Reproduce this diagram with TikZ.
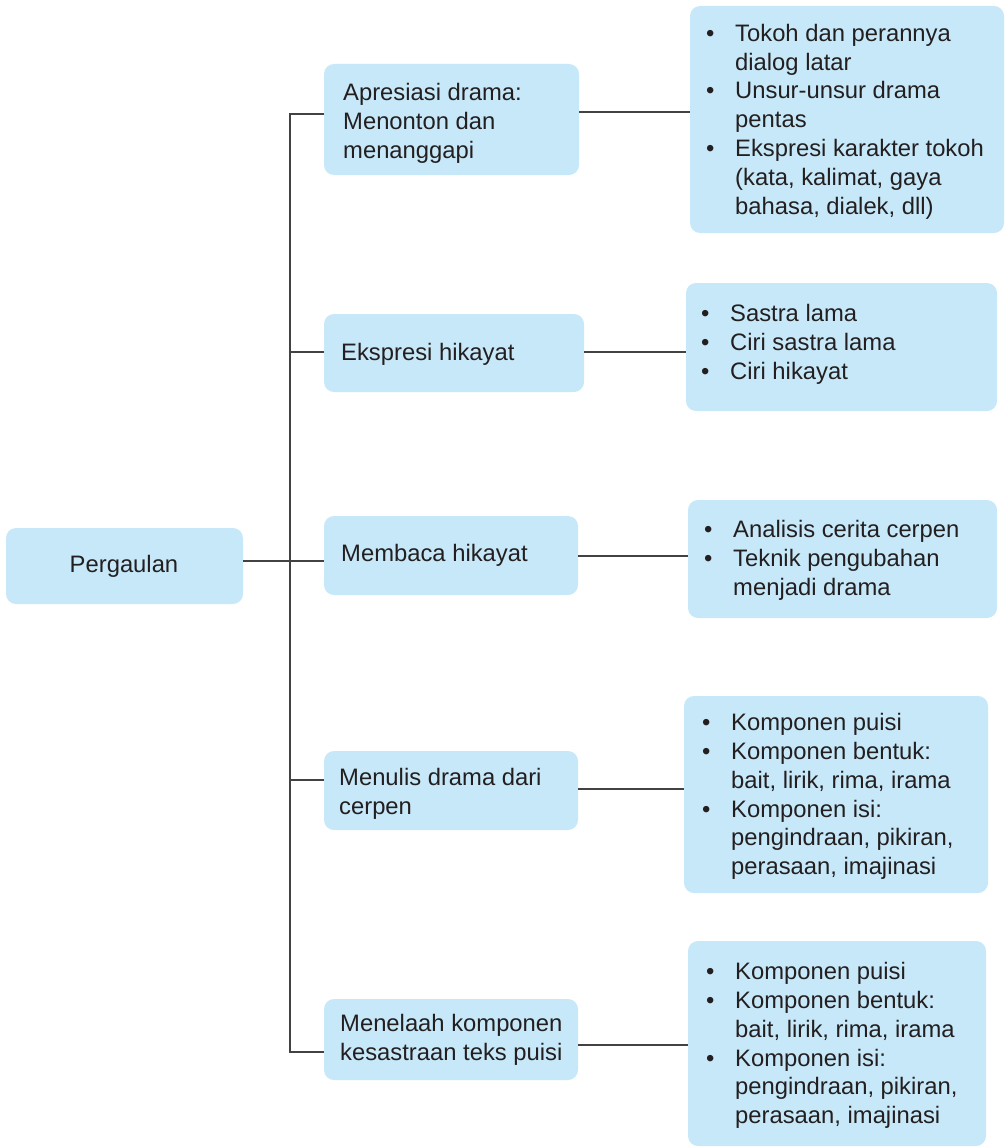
\documentclass[tikz,border=0pt]{standalone}
\usepackage{fontspec}
\setmainfont{Liberation Sans}
\definecolor{boxfill}{HTML}{C7E8F8}
\definecolor{ink}{HTML}{231F20}
% bullet item and hanging indent for the list boxes
\newcommand{\itm}{\makebox[29pt][l]{\textbullet}}
\newcommand{\ind}{\hspace*{29pt}}
\begin{document}
\begin{tikzpicture}[x=1pt,y=-1pt,
  box/.style={fill=boxfill, draw=none, rounded corners=10pt, anchor=north west,
              inner sep=0pt, outer sep=0pt},
  txt/.style={anchor=west, inner sep=0pt, align=left, text=ink,
              font=\fontsize{23.8}{28.8}\selectfont},
  link/.style={draw=ink!85, line width=1.1pt}]
\useasboundingbox (0,0) rectangle (1005,1148);

% ---- boxes ----
\node[box, minimum width=237pt, minimum height=76pt]  (root) at (6,528) {};
\node[box, minimum width=255pt, minimum height=111pt] (m1) at (324,64) {};
\node[box, minimum width=260pt, minimum height=78pt]  (m2) at (324,314) {};
\node[box, minimum width=254pt, minimum height=79pt]  (m3) at (324,516) {};
\node[box, minimum width=254pt, minimum height=79pt]  (m4) at (324,751) {};
\node[box, minimum width=254pt, minimum height=81pt]  (m5) at (324,999) {};
\node[box, minimum width=314pt, minimum height=227pt] (r1) at (690,6) {};
\node[box, minimum width=311pt, minimum height=128pt] (r2) at (686,283) {};
\node[box, minimum width=309pt, minimum height=118pt] (r3) at (688,500) {};
\node[box, minimum width=304pt, minimum height=197pt] (r4) at (684,696) {};
\node[box, minimum width=298pt, minimum height=205pt] (r5) at (688,941) {};

% ---- labels ----
\node[txt, anchor=center] (troot) at (124,566) {Pergaulan};
\node[txt] (tm1) at (343,123.5) {Apresiasi drama:\\Menonton dan\\menanggapi};
\node[txt] (tm2) at (341,354) {Ekspresi hikayat};
\node[txt] (tm3) at (341,555) {Membaca hikayat};
\node[txt] (tm4) at (339,794) {Menulis drama dari\\cerpen};
\node[txt] (tm5) at (340,1039.5) {Menelaah komponen\\kesastraan teks puisi};

\node[txt] (tr1) at (706,121.5) {\itm Tokoh dan perannya\\\ind dialog latar\\
  \itm Unsur-unsur drama\\\ind pentas\\\itm Ekspresi karakter tokoh\\
  \ind (kata, kalimat, gaya\\\ind bahasa, dialek, dll)};
\node[txt] (tr2) at (701,344.5) {\itm Sastra lama\\\itm Ciri sastra lama\\\itm Ciri hikayat};
\node[txt] (tr3) at (704,560.5) {\itm Analisis cerita cerpen\\\itm Teknik pengubahan\\\ind menjadi drama};
\node[txt] (tr4) at (702,796.5) {\itm Komponen puisi\\\itm Komponen bentuk:\\
  \ind bait, lirik, rima, irama\\\itm Komponen isi:\\\ind pengindraan, pikiran,\\\ind perasaan, imajinasi};
\node[txt] (tr5) at (706,1045.5) {\itm Komponen puisi\\\itm Komponen bentuk:\\
  \ind bait, lirik, rima, irama\\\itm Komponen isi:\\\ind pengindraan, pikiran,\\\ind perasaan, imajinasi};

% ---- spine and branches ----
\coordinate (j1) at (290,114);
\coordinate (j2) at (290,352);
\coordinate (j3) at (290,561);
\coordinate (j4) at (290,780);
\coordinate (j5) at (290,1052);
\draw[link] (j1 -| m1.west) -- (j1) -- (j5) -- (j5 -| m5.west);
\draw[link] (j2) -- (j2 -| m2.west);
\draw[link] (j3 -| root.east) -- (j3 -| m3.west);
\draw[link] (j4) -- (j4 -| m4.west);

% ---- links to the detail boxes ----
\coordinate (k1) at (600,112);
\coordinate (k2) at (600,352);
\coordinate (k3) at (600,556);
\coordinate (k4) at (600,789);
\coordinate (k5) at (600,1045);
\draw[link] (k1 -| m1.east) -- (k1 -| r1.west);
\draw[link] (k2 -| m2.east) -- (k2 -| r2.west);
\draw[link] (k3 -| m3.east) -- (k3 -| r3.west);
\draw[link] (k4 -| m4.east) -- (k4 -| r4.west);
\draw[link] (k5 -| m5.east) -- (k5 -| r5.west);
\end{tikzpicture}
\end{document}
